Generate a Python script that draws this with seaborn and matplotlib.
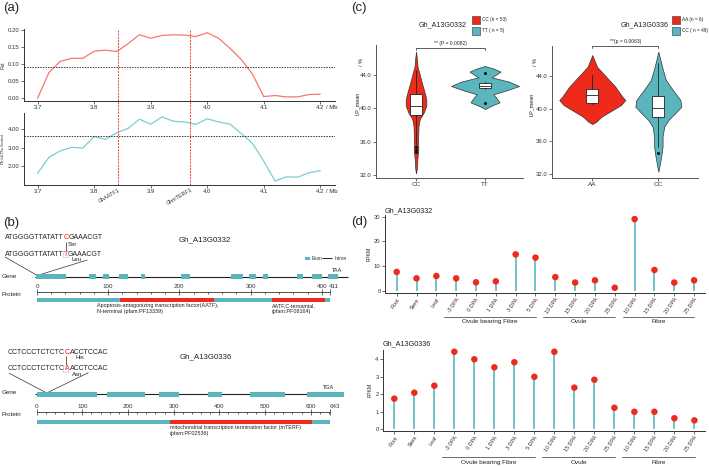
import numpy as np
import pandas as pd
import matplotlib
matplotlib.use("Agg")
import matplotlib.pyplot as plt
import matplotlib.ticker as mticker
from matplotlib.patches import Rectangle
from matplotlib.offsetbox import TextArea, HPacker, AnnotationBbox
import seaborn as sns

# ---------------- data: panel (a) ----------------
window_mb = [3.70, 3.72, 3.74, 3.76, 3.78, 3.80, 3.82, 3.84, 3.86, 3.88, 3.90, 3.92, 3.94,
             3.96, 3.98, 4.00, 4.02, 4.04, 4.06, 4.08, 4.10, 4.12, 4.14, 4.16, 4.18, 4.20]
fst_values = [0.000, 0.075, 0.108, 0.117, 0.117, 0.138, 0.141, 0.137, 0.160, 0.186, 0.176, 0.184, 0.186,
              0.185, 0.181, 0.192, 0.176, 0.147, 0.114, 0.071, 0.005, 0.008, 0.004, 0.004, 0.011, 0.012]
pi_ratio_values = [1.63, 2.48, 2.83, 3.02, 2.98, 3.59, 3.45, 3.80, 4.03, 4.53, 4.26, 4.65, 4.42,
                   4.38, 4.25, 4.55, 4.38, 4.27, 3.77, 3.23, 2.28, 1.21, 1.44, 1.42, 1.66, 1.76]
fst_cutoff = 0.092
pi_cutoff = 3.61
candidate_genes = ["GhAATF1", "GhmTERF1"]
candidate_pos_mb = [3.842, 3.970]
a_xticks = [3.7, 3.8, 3.9, 4.0, 4.1, 4.2]
fst_yticks = [0.00, 0.05, 0.10, 0.15, 0.20]
pi_yticks = [2.0, 3.0, 4.0]

# ---------------- data: panel (b) ----------------
gene1_name = "Gh_A13G0332"
gene1_span = [35, 348]
gene1_exon_start = [36, 89, 103, 119, 141, 181, 231, 249, 263, 297, 312, 328]
gene1_exon_end = [66, 96, 109, 128, 145, 190, 243, 256, 268, 303, 322, 338]
gene1_stop = "TAA"
prot1_len = 411
prot1_dom_start = [117, 330]
prot1_dom_end = [249, 404]
prot1_dom_label = ["Apoptosis-antagonizing transcription factor(AATF),\nN-terminal (pfam:PF13339)",
                   "AATF,C-ternamial,\n(pfam:PF08164)"]
snp1_ref = ["ATGGGGTTATATT", "C", "GAAACGT"]
snp1_alt = ["ATGGGGTTATATT", "T", "GAAACGT"]
snp1_aa = ["Ser", "Leu"]

gene2_name = "Gh_A13G0336"
gene2_span = [35, 342]
gene2_exon_start = [37, 107, 159, 208, 250, 307]
gene2_exon_end = [97, 145, 179, 222, 285, 344]
gene2_stop = "TGA"
prot2_len = 643
prot2_dom_start = [291]
prot2_dom_end = [603]
prot2_dom_label = ["mitochondrial transcription termination factor (mTERF)\n(pfam:PF02536)"]
snp2_ref = ["CCTCCCTCTCTC", "C", "ACCTCCAC"]
snp2_alt = ["CCTCCCTCTCTC", "A", "ACCTCCAC"]
snp2_aa = ["His", "Asn"]

# ---------------- data: panel (c) ----------------
c1_title = "Gh_A13G0332"
c1_groups = ["CC", "TT"]
c1_legend = ["CC (n = 53)", "TT ( n = 5)"]
c1_pvalue = "** (P = 0.0082)"
c1_cc_y = [32.2, 32.7, 33.9, 35.1, 36.3, 37.9, 38.7, 39.5, 40.3, 41.0, 41.6, 43.0, 44.0, 45.0, 46.0, 46.8]
c1_cc_w = [0, 0.7, 1.3, 2.3, 2.0, 2.5, 3.7, 7.7, 10.3, 10.3, 9.3, 6.0, 3.8, 1.5, 0.8, 0]
c1_tt_y = [39.92, 40.28, 40.72, 41.2, 41.68, 42.2, 42.68, 43.2, 43.72, 44.05, 44.4, 44.75, 45.08]
c1_tt_w = [0, 5.8, 14.5, 11.7, 8.3, 22.5, 34.0, 24.0, 6.7, 11.0, 15.5, 9.0, 0]
c1_box = [dict(q1=39.2, med=40.3, q3=41.7, whislo=35.6, whishi=44.6, fliers=[35.35, 35.05, 34.75]),
          dict(q1=42.4, med=42.65, q3=43.1, whislo=42.35, whishi=43.15, fliers=[44.25, 40.7])]

c2_title = "Gh_A13G0336"
c2_groups = ["AA", "CC"]
c2_legend = ["AA (n = 6)", "CC ( n = 49)"]
c2_pvalue = "**(p = 0.0063)"
c2_aa_y = [38.1, 38.39, 39.0, 39.61, 40.44, 41.05, 41.46, 42.69, 43.92, 45.14, 46.58]
c2_aa_w = [0, 4.0, 9.2, 17.5, 28.7, 33.0, 30.0, 23.0, 13.8, 4.7, 0]
c2_cc_y = [32.24, 32.86, 34.09, 35.31, 36.54, 37.77, 38.59, 39.42, 40.23, 41.05, 42.28, 43.51, 45.14, 46.99]
c2_cc_w = [0, 1.0, 2.8, 4.2, 4.2, 5.8, 10.0, 16.7, 23.0, 22.0, 14.5, 7.5, 3.7, 0]
c2_box = [dict(q1=40.65, med=41.7, q3=42.4, whislo=40.55, whishi=44.1, fliers=[]),
          dict(q1=39.0, med=40.1, q3=41.6, whislo=35.3, whishi=45.6, fliers=[34.6])]
c_yticks = [32.0, 36.0, 40.0, 44.0]

# ---------------- data: panel (d) ----------------
tissues = ["Root", "Stem", "Leaf", "-3 DPA", "0 DPA", "1 DPA", "3 DPA", "5 DPA",
           "10 DPA", "15 DPA", "20 DPA", "25 DPA", "10 DPA", "15 DPA", "20 DPA", "25 DPA"]
tissue_groups = ["Ovule bearing Fibre", "Ovule", "Fibre"]
group_first = [3, 8, 12]
group_last = [7, 11, 15]
fpkm_0332 = [7.6, 5.0, 5.95, 5.0, 3.4, 3.8, 14.7, 13.4, 5.5, 3.3, 4.2, 1.2, 29.0, 8.4, 3.3, 4.2]
fpkm_0336 = [1.75, 2.09, 2.49, 4.43, 4.0, 3.54, 3.83, 3.0, 4.43, 2.38, 2.83, 1.23, 1.0, 1.0, 0.63, 0.51]

# ---------------- styling ----------------
sns.set_style("ticks")
plt.rcParams['font.family'] = ['Liberation Sans', 'DejaVu Sans']
plt.rcParams['axes.unicode_minus'] = False
RED = "#EE2A1B"
TEAL = "#5BB5BD"
FST_COL = "#F8766D"
PI_COL = "#7ECDD1"
INK = "#333333"

W, H = 709, 466
fig = plt.figure(figsize=(W / 100, H / 100), dpi=100)


def px_axes(x0, y0, x1, y1):
    return fig.add_axes([x0 / W, 1 - y1 / H, (x1 - x0) / W, (y1 - y0) / H])


def style_axes(ax, ls=4.3):
    for s in ['top', 'right']:
        ax.spines[s].set_visible(False)
    for s in ['left', 'bottom']:
        ax.spines[s].set_linewidth(0.7)
        ax.spines[s].set_color(INK)
    ax.tick_params(length=2, width=0.5, pad=1.2, labelsize=ls, colors=INK)
    ax.set_facecolor('none')
    ax.set_xlabel('')
    ax.set_ylabel('')


# ================= panel (a) =================
ax_a1 = px_axes(24, 29, 335, 101)
sns.lineplot(x=window_mb, y=fst_values, ax=ax_a1, color=FST_COL, linewidth=0.9)
ax_a1.set_xlim(3.676, 4.226)
ax_a1.set_ylim(-0.008, 0.203)
ax_a1.axhline(fst_cutoff, color=INK, ls=(0, (1.5, 1.2)), lw=0.7)
style_axes(ax_a1)
ax_a1.set_xticks(a_xticks)
ax_a1.set_yticks(fst_yticks)
ax_a1.yaxis.set_major_formatter(mticker.FormatStrFormatter('%.2f'))
ax_a1.set_ylabel('Fst', fontsize=4, labelpad=2, color=INK)
for p in candidate_pos_mb:
    ax_a1.axvline(p, ymin=-0.17, ymax=1.0, clip_on=False, color='#F03A30', ls=(0, (2, 1.2)), lw=0.7)

ax_a2 = px_axes(24, 113, 335, 185)
sns.lineplot(x=window_mb, y=pi_ratio_values, ax=ax_a2, color=PI_COL, linewidth=0.9)
ax_a2.set_xlim(3.676, 4.226)
ax_a2.set_ylim(1.0, 4.86)
ax_a2.axhline(pi_cutoff, color=INK, ls=(0, (1.5, 1.2)), lw=0.7)
style_axes(ax_a2)
ax_a2.set_xticks(a_xticks)
ax_a2.set_yticks(pi_yticks)
ax_a2.yaxis.set_major_formatter(mticker.FormatStrFormatter('%.2f'))
ax_a2.text(-0.068, 0.5, r'$\pi_{wild}/\pi_{cultivated}$', transform=ax_a2.transAxes, rotation=90,
           fontsize=3.4, ha='center', va='center', color=INK)
for p, name in zip(candidate_pos_mb, candidate_genes):
    ax_a2.axvline(p, color='#F03A30', ls=(0, (2, 1.2)), lw=0.7)
    ax_a2.annotate(name, xy=(p, 0), xycoords=('data', 'axes fraction'), xytext=(0.5, -1.8),
                   textcoords='offset points', ha='right', va='top', rotation=30,
                   rotation_mode='anchor', fontsize=3.9, color=INK)
for ax in (ax_a1, ax_a2):
    ax.annotate('/ Mb', xy=(4.2, 0), xycoords=('data', 'axes fraction'), xytext=(4, -3.2),
                textcoords='offset points', ha='left', va='top', fontsize=4.3, color=INK)

# ================= panel (b) =================
ax_b = px_axes(0, 200, 350, 466)
ax_b.set_xlim(0, 350)
ax_b.set_ylim(466, 200)
ax_b.axis('off')


def seq_text(ax, x, y, parts, size=5):
    tas = [TextArea(parts[0], textprops=dict(size=size, color='#222')),
           TextArea(parts[1], textprops=dict(size=size, color='red')),
           TextArea(parts[2], textprops=dict(size=size, color='#222'))]
    pk = HPacker(children=tas, pad=0, sep=0, align='baseline')
    ab = AnnotationBbox(pk, (x, y), xycoords='data', box_alignment=(0, 0.5),
                        frameon=False, pad=0)
    ax.add_artist(ab)


def draw_gene(ax, y, starts, ends, span, stop, stop_x):
    ax.hlines(y, span[0], span[1], color='#222', lw=0.8, zorder=2)
    ax.broken_barh([(s, e - s) for s, e in zip(starts, ends)], (y - 2.35, 4.7),
                   facecolors=TEAL, edgecolor='none', zorder=3)
    ax.text(stop_x, y - 6.5, stop, fontsize=4, ha='center', va='center', color='#222')


def draw_protein(y0, y1, px0, k, length, ruler_y, bar_y, dstart, dend, dlabels, lab_x, lab_y):
    ax = px_axes(0, y0, 350, y1)
    ax.set_xlim(-px0 / k, (350 - px0) / k)
    ax.set_ylim(y1, y0)
    ax.axis('off')
    ax.hlines(ruler_y, 0, length, color=INK, lw=0.6)
    minors = [m for m in range(0, length + 1, 20) if m % 100 != 0]
    ax.vlines(minors, ruler_y, ruler_y + 2.4, color=INK, lw=0.5)
    majors = list(range(0, length + 1, 100)) + [length]
    ax.vlines(majors, ruler_y - 2.7, ruler_y + 3.5, color=INK, lw=0.5)
    for m in majors[:-1]:
        ax.text(m, ruler_y - 5.2, str(m), fontsize=4.5, ha='center', va='center', color=INK)
    ax.text(majors[-1] - 1.5, ruler_y - 5.2, str(length), fontsize=4.5, ha='left', va='center', color=INK)
    ax.broken_barh([(0, length)], (bar_y, 4.5), facecolors=TEAL, edgecolor='none')
    ax.broken_barh([(s, e - s) for s, e in zip(dstart, dend)], (bar_y, 4.5),
                   facecolors=RED, edgecolor='none')
    for lx, lab in zip(lab_x, dlabels):
        ax.text(lx, lab_y, lab, fontsize=3.9, ha='left', va='top', linespacing=1.05, color='#222')
    return ax


def mark_box(ax, x, y, w, h):
    ax.add_patch(Rectangle((x, y - h / 2), w, h, fc='none', ec='#F4A0A0', lw=0.4, zorder=4))


# gene 1
ax_b.text(3, 223, '(b)', fontsize=9.5, ha='left', va='center')
seq_text(ax_b, 5, 237.5, snp1_ref)
ax_b.text(68, 244, snp1_aa[0], fontsize=4.3, ha='left', va='center', color='#222')
ax_b.vlines(66, 242, 251, color='#222', lw=0.5)
seq_text(ax_b, 5, 254, snp1_alt)
mark_box(ax_b, 62.8, 254, 5.0, 5.4)
ax_b.text(72, 259.5, snp1_aa[1], fontsize=4.3, ha='left', va='center', color='#222')
ax_b.plot([5, 37.3, 87.3], [257, 275.5, 260], color='#333', lw=0.5)
ax_b.text(179, 240, gene1_name, fontsize=5.7, ha='left', va='center', color='#222')
ax_b.text(2, 276.7, 'Gene', fontsize=4.5, ha='left', va='center', color='#222')
ax_b.text(2, 294, 'Protein', fontsize=4.5, ha='left', va='center', color='#222')
draw_gene(ax_b, 276.7, gene1_exon_start, gene1_exon_end, gene1_span, gene1_stop, 337)
# exon / intron legend
ax_b.add_patch(Rectangle((305, 257), 4.5, 2.6, fc=TEAL, ec='none'))
ax_b.text(311.5, 258.3, 'Exon', fontsize=3.3, ha='left', va='center', color='#222')
ax_b.hlines(258.3, 322, 332, color='#222', lw=0.7)
ax_b.text(334.5, 258.3, 'Intron', fontsize=3.3, ha='left', va='center', color='#222')
draw_protein(280, 320, 37, 0.712, prot1_len, 291.7, 297.5, prot1_dom_start, prot1_dom_end,
             prot1_dom_label, [84, 330], 303.5)

# gene 2
seq_text(ax_b, 8, 352.3, snp2_ref)
ax_b.text(75, 357.5, snp2_aa[0], fontsize=4.3, ha='left', va='center', color='#222')
ax_b.vlines(65.7, 356, 365, color='#222', lw=0.5)
seq_text(ax_b, 8, 369, snp2_alt)
mark_box(ax_b, 63.2, 369, 5.0, 5.4)
ax_b.text(72, 374.5, snp2_aa[1], fontsize=4.3, ha='left', va='center', color='#222')
ax_b.plot([9.3, 46.7, 88.3], [373.3, 393, 372.7], color='#333', lw=0.5)
ax_b.text(180, 357, gene2_name, fontsize=5.7, ha='left', va='center', color='#222')
ax_b.text(2, 393, 'Gene', fontsize=4.5, ha='left', va='center', color='#222')
ax_b.text(2, 415, 'Protein', fontsize=4.5, ha='left', va='center', color='#222')
draw_gene(ax_b, 394.3, gene2_exon_start, gene2_exon_end, gene2_span, gene2_stop, 328)
draw_protein(400, 445, 36.7, 0.4566, prot2_len, 411.7, 419.5, prot2_dom_start, prot2_dom_end,
             prot2_dom_label, [292], 425.5)

# ================= panel (c) =================
box_kw = dict(widths=0.185, patch_artist=True, showcaps=False, manage_ticks=False,
              boxprops=dict(facecolor='white', edgecolor='#222', linewidth=0.6),
              medianprops=dict(color='#222', linewidth=0.6),
              whiskerprops=dict(color='#222', linewidth=0.6),
              flierprops=dict(marker='o', markersize=2.2, markerfacecolor='#111',
                              markeredgecolor='none'),
              zorder=3)


def violin(ax, pos, ys, ws, scale, color):
    w = np.asarray(ws, dtype=float) / scale
    ax.fill_betweenx(ys, pos - w, pos + w, facecolor=color, edgecolor='#333', lw=0.5, zorder=2)


def c_panel(ax, groups, ys_list, ws_list, scale, boxes, pval, br_y, xlim, ylim, lab_x):
    colors = [RED, TEAL]
    for i in range(2):
        violin(ax, i, ys_list[i], ws_list[i], scale, colors[i])
        ax.bxp([boxes[i]], positions=[i], **box_kw)
    ax.set_xlim(*xlim)
    ax.set_ylim(*ylim)
    style_axes(ax)
    ax.spines['left'].set_color('#555')
    ax.spines['bottom'].set_color('#555')
    ax.set_xticks([0, 1])
    ax.set_xticklabels(groups, fontsize=4.6)
    ax.set_yticks(c_yticks)
    ax.yaxis.set_major_formatter(mticker.FormatStrFormatter('%.1f'))
    ax.plot([0, 0, 1, 1], [br_y - 0.3, br_y, br_y, br_y - 0.3], color='#444', lw=0.6, clip_on=False)
    ax.text(0.5, br_y + 0.25, pval, fontsize=3.6, ha='center', va='bottom', color='#222')
    ax.text(lab_x, 0.56, 'LP_mean', transform=ax.transAxes, rotation=90, fontsize=4,
            ha='center', va='center', color='#222')
    ax.text(lab_x + 0.03, 0.875, '/ %', transform=ax.transAxes, rotation=90, fontsize=4,
            ha='center', va='center', color='#222')


ax_c1 = px_axes(376, 45, 523, 178)
c_panel(ax_c1, c1_groups, [c1_cc_y, c1_tt_y], [c1_cc_w, c1_tt_w], 69.0, c1_box, c1_pvalue,
        47.28, (-0.58, 1.55), (31.64, 47.6), -0.13)
ax_c2 = px_axes(552, 46, 698, 178)
c_panel(ax_c2, c2_groups, [c2_aa_y, c2_cc_y], [c2_aa_w, c2_cc_w], 66.0, c2_box, c2_pvalue,
        47.72, (-0.61, 1.6), (31.47, 47.69), -0.14)

# ================= panel (d) =================
def lollipop(ax, values, title, ylim, yticks, xlim, line_y, lab_y, title_y):
    df = pd.DataFrame({'idx': np.arange(len(tissues)), 'fpkm': values})
    ax.vlines(df['idx'], 0, df['fpkm'], color="#6CC3C9", lw=1.4, zorder=2)
    sns.scatterplot(data=df, x='idx', y='fpkm', ax=ax, color=RED, s=22, edgecolor='none',
                    zorder=3, clip_on=False, legend=False)
    ax.set_xlim(*xlim)
    ax.set_ylim(*ylim)
    style_axes(ax, ls=4.2)
    ax.set_yticks(yticks)
    ax.set_xticks(np.arange(len(tissues)))
    ax.set_xticklabels(tissues, rotation=55, ha='right', rotation_mode='anchor', fontsize=3.9)
    ax.set_ylabel('FPKM', fontsize=3.8, labelpad=1.5, color='#222')
    ax.text(0.0, title_y, title, transform=ax.transAxes, fontsize=5.2, ha='left', va='center',
            color='#222')
    tr = ax.get_xaxis_transform()
    for g, f, l in zip(tissue_groups, group_first, group_last):
        ax.plot([f - 0.6, l + 0.02], [line_y, line_y], transform=tr, color='#555', lw=0.6,
                clip_on=False)
        ax.text((f - 0.6 + l + 0.02) / 2, lab_y, g, transform=tr, fontsize=4.6, ha='center',
                va='center', color='#222')


ax_d1 = px_axes(385, 215, 705, 292.7)
lollipop(ax_d1, fpkm_0332, "Gh_A13G0332", (-0.81, 30.65), [0, 10, 20, 30], (-0.59, 15.55),
         -0.309, -0.375, 1.05)
ax_d2 = px_axes(383, 350, 705, 430.5)
lollipop(ax_d2, fpkm_0336, "Gh_A13G0336", (-0.07, 4.53), [0, 1, 2, 3, 4], (-0.565, 15.53),
         -0.333, -0.392, 1.075)

# ================= overlay: panel letters, (c) legends =================
ax_o = fig.add_axes([0, 0, 1, 1])
ax_o.set_xlim(0, W)
ax_o.set_ylim(H, 0)
ax_o.axis('off')
ax_o.text(3, 8, '(a)', fontsize=9.5, ha='left', va='center')
ax_o.text(351, 8, '(c)', fontsize=9.5, ha='left', va='center')
ax_o.text(351, 222, '(d)', fontsize=9.5, ha='left', va='center')

for tx, bx, title, labels in [(443, 471.7, c1_title, c1_legend), (644.5, 672, c2_title, c2_legend)]:
    ax_o.text(tx, 25, title, fontsize=5.1, ha='center', va='center', color='#222')
    for j, (lab, col) in enumerate(zip(labels, [RED, TEAL])):
        ax_o.add_patch(Rectangle((bx, 16 + j * 10.5), 8.3, 8, fc=col, ec='#333', lw=0.4))
        ax_o.text(bx + 10.5, 20 + j * 10.5, lab, fontsize=3.4, ha='left', va='center', color='#222')

fig.savefig('out.png', dpi=100)
